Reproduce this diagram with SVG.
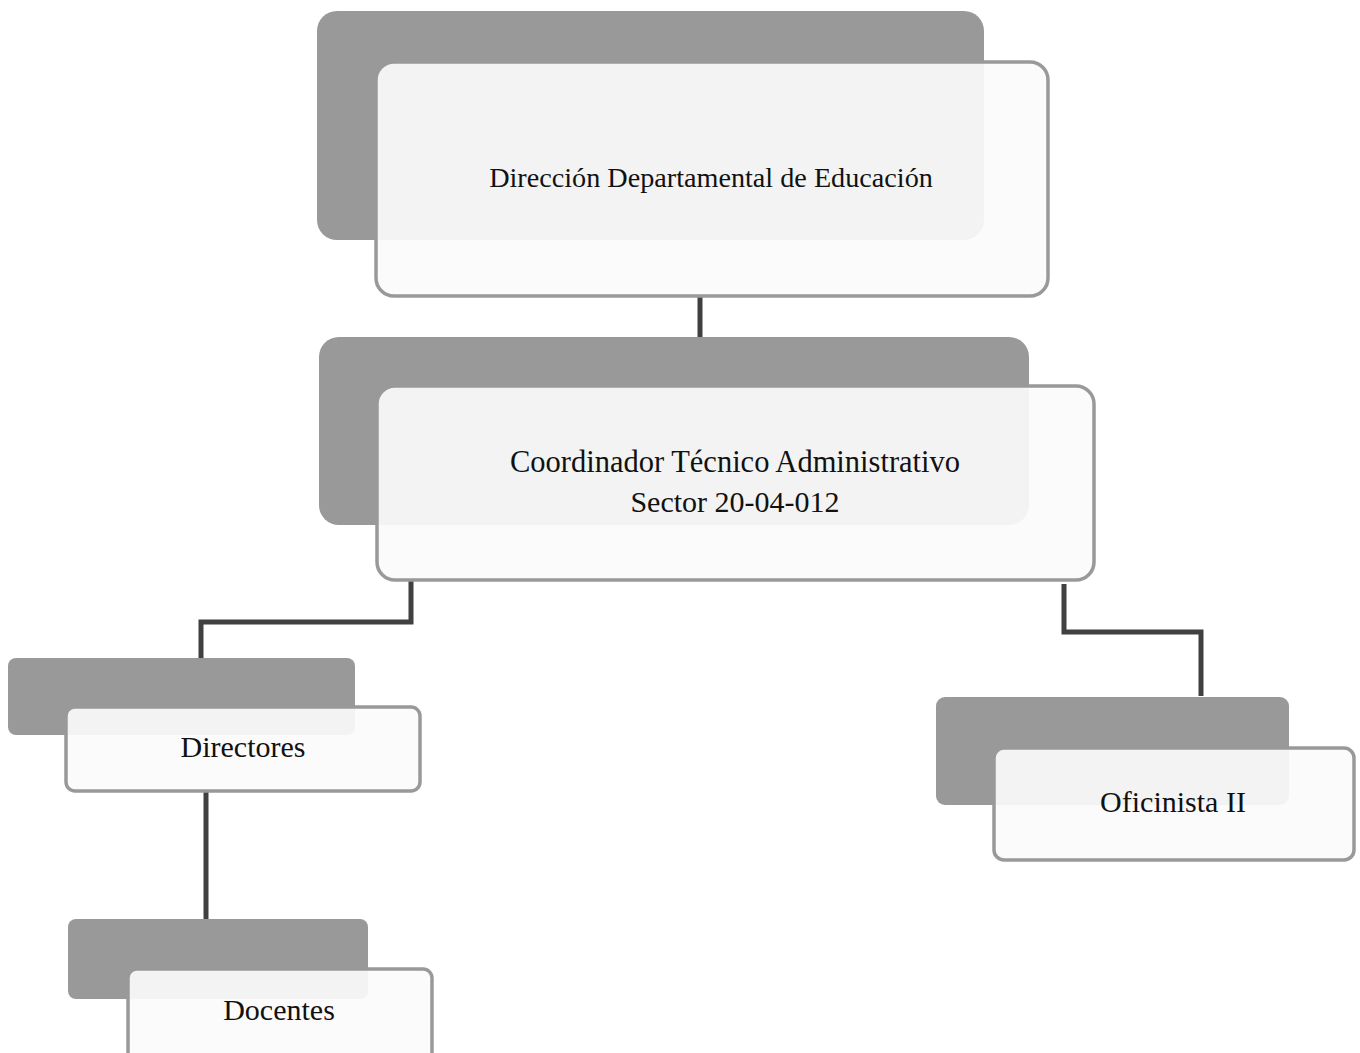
<svg xmlns="http://www.w3.org/2000/svg" width="1360" height="1053" viewBox="0 0 1360 1053">
<style>
.back{fill:#999999}
.front{fill:#fbfbfb;fill-opacity:0.92;stroke:#999999;stroke-width:3.5}
.lbl{font-family:"Liberation Serif","Times New Roman",serif;fill:#111111;text-anchor:middle}
.conn{fill:none;stroke:#404040;stroke-width:5}
</style>
<rect width="1360" height="1053" fill="#ffffff"/>
<g id="connectors">
<path class="conn" d="M700,296 V340"/>
<path class="conn" d="M411,580 V622 H201 V665"/>
<path class="conn" d="M1064,584 V632 H1201 V696"/>
<path class="conn" d="M206,791 V920"/>
</g>
<g id="node-direccion">
<rect class="back" x="317" y="11" width="667" height="229" rx="20"/>
<rect class="front" x="376" y="62" width="672" height="234" rx="18"/>
<text class="lbl" x="711" y="187" font-size="28.2">Dirección Departamental de Educación</text>
</g>
<g id="node-coordinador">
<rect class="back" x="319" y="337" width="710" height="188" rx="20"/>
<rect class="front" x="377" y="386" width="717" height="194" rx="18"/>
<text class="lbl" x="735" y="472" font-size="30.5">Coordinador Técnico Administrativo</text>
<text class="lbl" x="735" y="512" font-size="30">Sector 20-04-012</text>
</g>
<g id="node-directores">
<rect class="back" x="8" y="658" width="347" height="77" rx="8"/>
<rect class="front" x="66" y="707" width="354" height="84" rx="9"/>
<text class="lbl" x="243" y="757" font-size="30">Directores</text>
</g>
<g id="node-docentes">
<rect class="back" x="68" y="919" width="300" height="80" rx="8"/>
<rect class="front" x="128" y="969" width="304" height="100" rx="9"/>
<text class="lbl" x="279" y="1020" font-size="30">Docentes</text>
</g>
<g id="node-oficinista">
<rect class="back" x="936" y="697" width="353" height="108" rx="9"/>
<rect class="front" x="994" y="748" width="360" height="112" rx="10"/>
<text class="lbl" x="1173" y="812" font-size="30">Oficinista II</text>
</g>
</svg>
